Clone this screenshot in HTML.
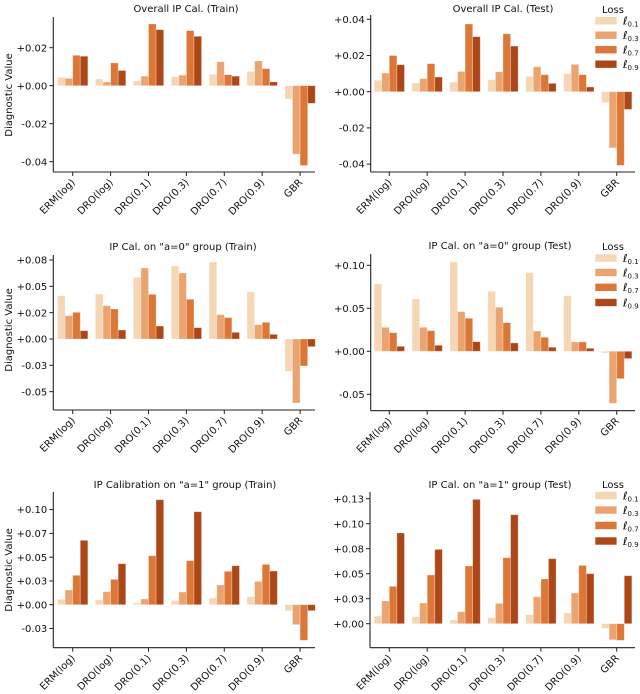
<!DOCTYPE html>
<html><head><meta charset="utf-8">
<style>
html,body{margin:0;padding:0;background:#fff;}
svg{display:block;font-family:"DejaVu Sans","Liberation Sans",sans-serif;}
</style></head>
<body>
<svg id="chart" width="640" height="694" viewBox="0 0 640 694" xmlns="http://www.w3.org/2000/svg"></svg>
<script>
const categories = ["ERM(log)","DRO(log)","DRO(0.1)","DRO(0.3)","DRO(0.7)","DRO(0.9)","GBR"];
const seriesNames = ["0.1","0.3","0.7","0.9"];
const seriesColors = ["#f5d6b5","#eba470","#dc7737","#ad4718"];

// values per panel: rows = series l0.1, l0.3, l0.7, l0.9 ; columns = categories
const overallTrain = [
  [0.0044,0.0035,0.0025,0.0047,0.0060,0.0075,-0.0070],
  [0.0039,0.0020,0.0050,0.0056,0.0126,0.0130,-0.0360],
  [0.0160,0.0120,0.0325,0.0290,0.0058,0.0090,-0.0420],
  [0.0155,0.0080,0.0295,0.0260,0.0050,0.0020,-0.0093]
];
const overallTest = [
  [0.0063,0.0048,0.0053,0.0066,0.0085,0.0100,-0.0060],
  [0.0103,0.0072,0.0112,0.0110,0.0138,0.0151,-0.0310],
  [0.0200,0.0155,0.0374,0.0320,0.0094,0.0094,-0.0407],
  [0.0149,0.0081,0.0304,0.0252,0.0046,0.0026,-0.0098]
];
const a0Train = [
  [0.0411,0.0427,0.0585,0.0693,0.0731,0.0446,-0.0307],
  [0.0222,0.0316,0.0674,0.0627,0.0231,0.0136,-0.0608],
  [0.0253,0.0285,0.0424,0.0377,0.0203,0.0158,-0.0256],
  [0.0079,0.0085,0.0123,0.0108,0.0063,0.0044,-0.0073]
];
const a0Test = [
  [0.0783,0.0609,0.1039,0.0698,0.0915,0.0643,-0.0019],
  [0.0279,0.0279,0.0461,0.0512,0.0236,0.0109,-0.0605],
  [0.0217,0.0240,0.0384,0.0333,0.0163,0.0109,-0.0318],
  [0.0058,0.0070,0.0112,0.0097,0.0047,0.0035,-0.0085]
];
const a1Train = [
  [0.0056,0.0049,0.0018,0.0042,0.0070,0.0084,-0.0063],
  [0.0154,0.0137,0.0060,0.0133,0.0207,0.0245,-0.0210],
  [0.0309,0.0266,0.0515,0.0463,0.0351,0.0424,-0.0375],
  [0.0677,0.0431,0.1104,0.0978,0.0410,0.0354,-0.0063]
];
const a1Test = [
  [0.0077,0.0070,0.0037,0.0060,0.0090,0.0107,-0.0047],
  [0.0227,0.0207,0.0120,0.0203,0.0270,0.0307,-0.0160],
  [0.0373,0.0487,0.0577,0.0660,0.0447,0.0583,-0.0167],
  [0.0907,0.0743,0.1243,0.1090,0.0650,0.0500,0.0480]
];
const ticksOverallTrain = [0.02,0,-0.02,-0.04];
const tickLabelsOverallTrain = ["+0.02","+0.00","-0.02","-0.04"];
const ticksOverallTest = [0.04,0.02,0,-0.02,-0.04];
const tickLabelsOverallTest = ["+0.04","+0.02","+0.00","-0.02","-0.04"];
const ticksA0Train = [0.075,0.05,0.025,0,-0.025,-0.05];
const tickLabelsA0Train = ["+0.08","+0.05","+0.02","+0.00","-0.03","-0.05"];
const ticksA0Test = [0.1,0.05,0,-0.05];
const tickLabelsA0Test = ["+0.10","+0.05","+0.00","-0.05"];
const ticksA1Train = [0.1,0.075,0.05,0.025,0,-0.025];
const tickLabelsA1Train = ["+0.10","+0.07","+0.05","+0.03","+0.00","-0.03"];
const ticksA1Test = [0.125,0.1,0.075,0.05,0.025,0];
const tickLabelsA1Test = ["+0.13","+0.10","+0.08","+0.05","+0.03","+0.00"];

const panels = [
 {name:"overall-train",title:"Overall IP Cal. (Train)",data:overallTrain,ticks:ticksOverallTrain,tl:tickLabelsOverallTrain,
  left:53.3,right:315,top:17,bottom:172,zeroY:85.7,pxPerUnit:38/0.02,x0:72.7,titleX:186,titleY:12,ylabel:true,ylabelY:95,legend:null},
 {name:"overall-test",title:"Overall IP Cal. (Test)",data:overallTest,ticks:ticksOverallTest,tl:tickLabelsOverallTest,
  left:370.7,right:635,top:15,bottom:172,zeroY:91.7,pxPerUnit:36.2/0.02,x0:389.3,titleX:503,titleY:12,ylabel:false,legend:{lossY:9,rows:[20.7,35.2,49.7,64.2]}},
 {name:"a0-train",title:"IP Cal. on \"a=0\" group (Train)",data:a0Train,ticks:ticksA0Train,tl:tickLabelsA0Train,
  left:53.3,right:315,top:255,bottom:410,zeroY:339,pxPerUnit:26.33/0.025,x0:72.7,titleX:183,titleY:250,ylabel:true,ylabelY:330,legend:null},
 {name:"a0-test",title:"IP Cal. on \"a=0\" group (Test)",data:a0Test,ticks:ticksA0Test,tl:tickLabelsA0Test,
  left:370.7,right:635,top:254,bottom:410.7,zeroY:351.3,pxPerUnit:43/0.05,x0:389.3,titleX:500,titleY:249,ylabel:false,legend:{lossY:246,rows:[258,272.5,287.3,302.5]}},
 {name:"a1-train",title:"IP Calibration on \"a=1\" group (Train)",data:a1Train,ticks:ticksA1Train,tl:tickLabelsA1Train,
  left:53.3,right:315,top:492,bottom:647.7,zeroY:604.7,pxPerUnit:23.77/0.025,x0:72.7,titleX:185,titleY:488,ylabel:true,ylabelY:570,legend:null},
 {name:"a1-test",title:"IP Cal. on \"a=1\" group (Test)",data:a1Test,ticks:ticksA1Test,tl:tickLabelsA1Test,
  left:370,right:635,top:492,bottom:647.7,zeroY:623.7,pxPerUnit:25/0.025,x0:389.3,titleX:500,titleY:488,ylabel:false,legend:{lossY:484,rows:[495.5,510,525.5,541]}}
];
const NS="http://www.w3.org/2000/svg";
const svg=document.getElementById("chart");
function mk(tag,attrs,parent){const e=document.createElementNS(NS,tag);for(const k in attrs)e.setAttribute(k,attrs[k]);(parent||svg).appendChild(e);return e;}
const step=37.9, groupW=0.8*step, barW=groupW/4;

panels.forEach(p=>{
  const g=mk("g",{});
  
  
  const y=v=>p.zeroY - v*p.pxPerUnit;
  const x=i=>p.x0 + i*step;
  p.data.forEach((row,s)=>{
    row.forEach((v,i)=>{
      const bx=x(i)-groupW/2+s*barW;
      const y1=y(v), y0=y(0);
      const r=mk("rect",{x:bx,y:Math.min(y0,y1),width:barW,height:Math.max(0.5,Math.abs(y1-y0)),fill:seriesColors[s],stroke:"#fff","stroke-opacity":"0.35","stroke-width":"0.8"},g);
      
      
    });
  });
  const ls=mk("line",{x1:p.left,y1:p.top,x2:p.left,y2:p.bottom,stroke:"#222","stroke-width":"1.1"},g);
  
  
  const bs=mk("line",{x1:p.left,y1:p.bottom,x2:p.right,y2:p.bottom,stroke:"#222","stroke-width":"1.1"},g);
  
  
  p.ticks.forEach((t,k)=>{
    const ty=y(t);
    mk("line",{x1:p.left-4,y1:ty,x2:p.left,y2:ty,stroke:"#222","stroke-width":"1"},g);
    const tx=mk("text",{x:p.left-6,y:ty+3.6,"text-anchor":"end","font-size":"10",fill:"#111"},g);
    tx.textContent=p.tl[k];
    
    
  });
  categories.forEach((c,i)=>{
    const cx=x(i);
    mk("line",{x1:cx,y1:p.bottom,x2:cx,y2:p.bottom+4,stroke:"#222","stroke-width":"1"},g);
    const tx=mk("text",{x:cx+3,y:p.bottom+11,"text-anchor":"end","font-size":"10",fill:"#111",transform:`rotate(-45 ${cx+3} ${p.bottom+11})`},g);
    tx.textContent=c;
    
    
  });
  const tt=mk("text",{x:p.titleX,y:p.titleY,"text-anchor":"middle","font-size":"10",fill:"#111"},g);
  tt.textContent=p.title;
  
  
  if(p.ylabel){
    const yl=mk("text",{x:12,y:p.ylabelY,"text-anchor":"middle","font-size":"10",fill:"#111",transform:`rotate(-90 12 ${p.ylabelY})`},g);
    yl.textContent="Diagnostic Value";
    
    
  }
  if(p.legend){
    const lg=mk("g",{},g);
    
    
    const lt=mk("text",{x:613,y:p.legend.lossY+4,"text-anchor":"middle","font-size":"10",fill:"#111"},lg);
    lt.textContent="Loss";
    
    
    p.legend.rows.forEach((ry,s)=>{
      const e=mk("g",{},lg);
      
      
      mk("rect",{x:595.3,y:ry-3.7,width:21.3,height:7.4,fill:seriesColors[s]},e);
      const t=mk("text",{x:623,y:ry+3.8,"font-size":"11",fill:"#111","font-style":"italic"},e);
      t.textContent="\u2113";
      const sub=mk("tspan",{"font-size":"7","font-style":"normal",dy:"2"},t);
      sub.textContent=seriesNames[s];
    });
  }
});
</script>
</body></html>
